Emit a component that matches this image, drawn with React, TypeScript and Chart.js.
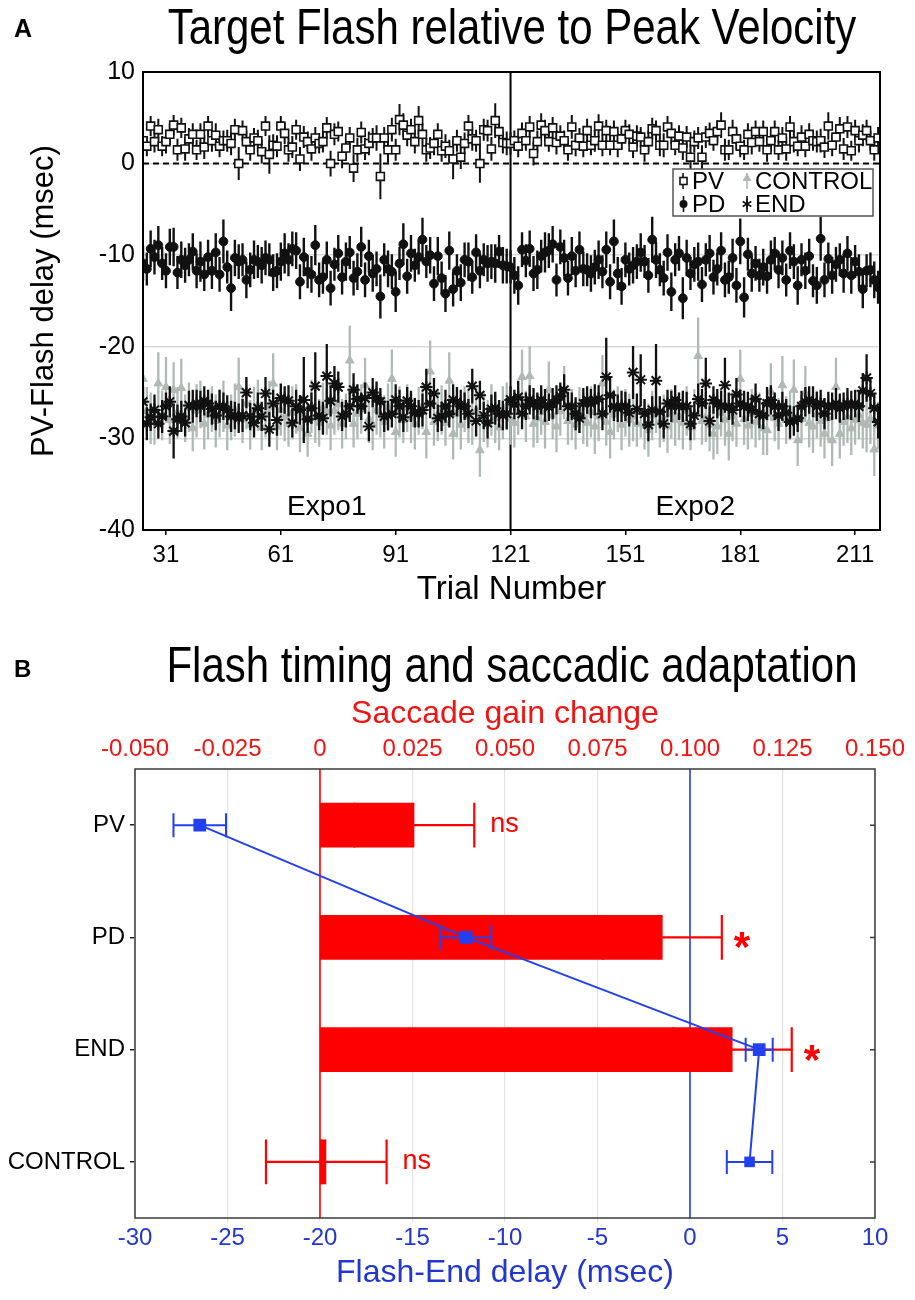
import { useEffect, useRef } from 'react'
import { Chart, registerables } from 'chart.js'

Chart.register(...registerables)

const FONT = "'Liberation Sans', Arial, Helvetica, sans-serif"
Chart.defaults.font.family = FONT
Chart.defaults.color = '#000'

// ---------------- Panel A: PV-Flash delay per trial ----------------
const firstTrial = 25
const trialTicks = [31, 61, 91, 121, 151, 181, 211]
const expoBoundary = 121
const expoLabels = ['Expo1', 'Expo2']

const pvDelay = [
  2.5, 1.9, 4.1, 2.4, 3.7, 1.9, 2.4, 3.2, 4.2, 1.5,
  3.9, 1.6, 2.7, 3.2, 1.5, 3.2, 1.8, 4.1, 2.5, 3.1,
  1.9, 2.5, 2.5, 2.2, 3.7, 0.0, 3.6, 2.4, 1.5, 2.8,
  2.5, 1.3, 4.1, 1.0, 2.0, 1.9, 4.1, 3.3, 1.5, 1.8,
  3.7, 0.5, 2.9, 2.4, 1.6, 2.8, 2.2, 2.4, 3.9, 0.0,
  3.2, 3.5, 0.8, 1.7, 2.8, -0.5, 1.5, 3.4, 1.6, 2.2,
  2.8, 2.8, -1.4, 2.8, 1.5, 3.7, 1.5, 4.8, 4.2, 3.1,
  3.7, 2.4, 4.7, 3.2, 1.5, 1.7, 2.2, 3.2, 1.4, 1.9,
  1.4, 0.5, 2.5, 0.7, 2.2, 4.1, 2.7, 2.5, 0.0, 3.7,
  3.6, 1.6, 4.7, 3.5, 2.3, 2.2, 2.2, 2.5, 1.9, 3.3,
  2.5, 4.0, 1.1, 2.4, 4.2, 3.6, 2.4, 3.9, 2.3, 3.0,
  2.5, 1.5, 4.0, 2.0, 2.8, 1.9, 3.6, 2.0, 2.5, 4.1,
  2.0, 3.6, 2.0, 3.5, 2.0, 2.7, 3.6, 3.2, 1.8, 3.0,
  2.9, 1.5, 2.4, 3.8, 3.6, 2.0, 2.0, 4.0, 3.3, 2.0,
  3.0, 1.7, 2.9, 0.7, 2.4, 2.8, 0.7, 2.9, 3.3, 2.5,
  3.5, 4.2, 1.5, 1.5, 3.5, 2.7, 1.9, 1.5, 3.2, 2.3,
  3.5, 2.4, 3.5, 1.5, 2.5, 3.5, 1.5, 2.8, 1.6, 4.0,
  2.4, 1.9, 2.9, 1.9, 3.2, 2.5, 2.4, 2.5, 1.8, 4.1,
  2.0, 2.9, 3.8, 1.6, 4.0, 1.4, 3.6, 2.5, 3.1, 3.6,
  2.5, 1.5, 2.8,
]
const pvErr = [
  1.2, 1.1, 1.1, 1.2, 1.2, 1.1, 1.3, 1.2, 1.1, 1.2,
  1.1, 1.3, 1.2, 1.2, 1.1, 1.2, 1.3, 1.1, 1.2, 1.3,
  1.2, 1.1, 1.2, 1.3, 1.2, 1.8, 1.1, 1.2, 1.2, 1.1,
  1.2, 1.3, 1.1, 2.1, 1.2, 1.2, 1.1, 1.2, 1.3, 1.2,
  1.1, 1.3, 1.2, 1.1, 1.3, 1.2, 1.1, 1.2, 1.2, 1.4,
  1.2, 1.1, 1.3, 1.2, 1.2, 1.5, 1.3, 1.2, 1.2, 1.3,
  1.1, 1.4, 2.5, 1.2, 1.4, 1.3, 1.2, 1.7, 1.3, 1.2,
  1.2, 1.3, 1.6, 1.2, 1.3, 1.2, 1.3, 1.2, 1.2, 1.3,
  1.2, 2.2, 1.2, 1.3, 1.2, 1.2, 1.3, 1.2, 2.1, 1.2,
  1.2, 1.3, 1.9, 1.2, 1.2, 1.3, 1.2, 1.1, 1.2, 1.2,
  1.1, 1.2, 1.3, 1.2, 1.3, 1.2, 1.1, 1.2, 1.3, 1.2,
  1.1, 1.2, 1.3, 1.2, 1.1, 1.2, 1.3, 1.1, 1.2, 1.3,
  1.2, 1.2, 1.1, 1.2, 1.3, 1.2, 1.2, 1.1, 1.2, 1.2,
  1.1, 1.3, 1.2, 1.2, 1.1, 1.2, 1.3, 1.2, 1.2, 1.1,
  1.2, 1.3, 1.2, 1.4, 1.2, 1.2, 1.3, 1.2, 1.2, 1.1,
  1.2, 1.4, 1.2, 1.1, 1.3, 1.2, 1.2, 1.1, 1.2, 1.3,
  1.2, 1.1, 1.2, 1.3, 1.2, 1.2, 1.1, 1.2, 1.3, 1.2,
  1.2, 1.1, 1.3, 1.2, 1.2, 1.1, 1.2, 1.3, 1.2, 1.5,
  1.2, 1.1, 1.3, 1.2, 1.2, 1.1, 1.2, 1.3, 1.2, 1.2,
  1.1, 1.2, 1.2,
]

const pdDelay = [
  -10.9, -11.5, -9.3, -10.2, -8.9, -10.9, -11.7, -9.1, -9.1, -11.9,
  -10.5, -11.1, -10.5, -9.6, -11.7, -10.7, -12.1, -10.2, -11.7, -9.7,
  -12.1, -8.5, -11.3, -13.6, -10.3, -10.7, -10.5, -12.7, -11.6, -10.5,
  -10.7, -11.1, -10.3, -10.5, -11.9, -11.7, -10.7, -9.8, -10.5, -9.3,
  -9.5, -12.9, -10.2, -11.8, -12.1, -8.9, -12.7, -12.4, -10.5, -13.6,
  -11.0, -9.8, -12.4, -10.7, -9.7, -12.5, -11.8, -9.1, -12.7, -10.1,
  -12.0, -11.5, -14.5, -10.5, -11.5, -11.8, -14.0, -10.9, -8.8, -12.3,
  -9.8, -11.1, -10.2, -8.3, -10.7, -10.0, -13.1, -10.1, -12.5, -14.2,
  -9.5, -13.7, -11.7, -13.0, -10.5, -10.7, -12.4, -9.7, -11.7, -10.5,
  -10.9, -10.7, -10.9, -9.6, -11.1, -11.2, -11.3, -12.2, -13.3, -9.4,
  -10.6, -9.3, -12.0, -11.6, -10.1, -9.7, -9.5, -8.8, -12.7, -9.1,
  -10.3, -12.5, -10.1, -11.7, -9.4, -11.5, -11.6, -12.0, -11.3, -10.5,
  -11.8, -9.4, -12.9, -8.5, -12.0, -13.4, -10.5, -11.5, -11.1, -10.7,
  -9.7, -10.7, -12.2, -8.3, -10.5, -11.6, -12.5, -9.7, -14.0, -10.5,
  -9.8, -14.7, -10.3, -12.0, -11.0, -10.7, -13.2, -10.5, -9.8, -12.4,
  -11.5, -9.5, -12.7, -12.4, -10.3, -13.3, -8.5, -14.6, -9.9, -12.0,
  -10.9, -12.2, -11.3, -12.3, -10.5, -9.8, -11.6, -10.3, -12.7, -9.5,
  -10.7, -13.3, -10.5, -11.7, -10.1, -12.8, -13.3, -8.2, -12.7, -10.4,
  -12.2, -11.0, -10.5, -12.0, -9.8, -12.2, -10.7, -11.8, -13.7, -11.7,
  -11.6, -12.7, -13.5,
]
const pdErr = [
  1.9, 1.8, 2.0, 1.9, 2.1, 1.8, 1.9, 2.0, 2.1, 1.8,
  2.0, 1.9, 1.8, 2.0, 1.9, 2.2, 1.8, 1.9, 2.0, 2.1,
  1.9, 2.4, 1.8, 2.5, 2.0, 1.9, 1.8, 2.0, 1.9, 2.1,
  1.8, 2.0, 1.9, 1.8, 2.0, 1.9, 2.1, 2.2, 1.8, 1.9,
  2.0, 1.9, 2.1, 1.8, 2.0, 2.2, 1.9, 1.8, 2.0, 1.9,
  1.8, 2.0, 1.9, 2.1, 1.8, 1.9, 2.0, 2.2, 1.9, 1.8,
  2.0, 1.9, 2.4, 1.8, 2.0, 1.9, 2.2, 1.8, 2.3, 1.9,
  2.0, 1.8, 1.9, 2.4, 1.8, 2.0, 1.9, 2.1, 1.8, 2.0,
  2.1, 1.9, 1.8, 2.0, 1.9, 2.1, 1.8, 2.0, 1.9, 1.8,
  2.0, 1.9, 2.1, 1.8, 2.0, 1.9, 1.8, 2.0, 2.1, 1.9,
  1.8, 2.0, 1.9, 2.1, 1.8, 2.2, 1.9, 2.0, 1.8, 1.9,
  2.0, 1.9, 2.1, 1.8, 2.0, 1.9, 1.8, 2.0, 1.9, 2.1,
  1.8, 2.0, 1.9, 2.4, 1.8, 2.0, 1.9, 1.8, 2.0, 1.9,
  2.1, 1.8, 1.9, 2.5, 2.0, 1.8, 1.9, 2.0, 2.1, 1.8,
  1.9, 2.3, 2.0, 1.8, 1.9, 2.1, 1.9, 1.8, 2.0, 1.9,
  1.8, 2.0, 1.9, 1.8, 2.1, 1.9, 2.5, 2.2, 1.8, 2.0,
  1.9, 1.8, 2.0, 1.9, 2.1, 1.8, 2.0, 1.9, 1.8, 2.0,
  1.9, 2.1, 1.8, 2.0, 1.9, 1.8, 2.0, 2.4, 1.9, 1.8,
  2.0, 1.9, 1.8, 2.1, 1.9, 2.0, 1.8, 1.9, 2.1, 1.8,
  1.9, 2.0, 1.8,
]

const endDelay = [
  -26.0, -28.4, -27.7, -26.9, -28.4, -27.6, -26.5, -26.0, -29.2, -27.9,
  -27.6, -28.3, -26.4, -26.5, -26.2, -26.5, -25.9, -26.2, -26.8, -27.5,
  -26.5, -26.5, -26.9, -27.6, -27.5, -27.8, -27.5, -25.0, -27.6, -28.3,
  -26.7, -27.6, -25.1, -29.0, -26.2, -28.0, -25.6, -25.8, -25.9, -28.3,
  -26.5, -26.9, -25.8, -27.9, -26.7, -24.3, -27.5, -27.8, -23.2, -25.9,
  -24.0, -24.4, -27.6, -27.3, -26.5, -24.7, -25.7, -26.5, -25.6, -28.7,
  -25.0, -25.6, -26.0, -27.6, -27.5, -27.3, -25.8, -26.5, -27.7, -25.9,
  -26.5, -27.2, -27.3, -26.9, -24.4, -26.2, -25.1, -27.8, -27.6, -26.5,
  -27.3, -25.8, -26.0, -26.5, -26.5, -27.3, -24.3, -28.1, -25.3, -27.5,
  -28.3, -26.8, -26.7, -27.3, -27.5, -27.3, -25.8, -26.3, -25.5, -27.3,
  -26.5, -25.8, -26.2, -26.5, -25.8, -26.4, -26.6, -26.2, -25.8, -25.4,
  -24.7, -26.5, -26.5, -27.3, -27.8, -26.2, -25.8, -26.2, -25.8, -25.7,
  -27.3, -23.3, -25.3, -26.5, -26.7, -26.5, -26.5, -27.2, -22.8, -26.8,
  -23.6, -27.3, -28.5, -26.9, -23.7, -27.1, -28.4, -26.2, -26.5, -25.8,
  -26.5, -26.5, -26.5, -28.4, -27.5, -25.7, -26.2, -24.0, -28.1, -25.8,
  -26.2, -26.5, -24.2, -26.5, -26.9, -25.2, -26.2, -26.5, -26.5, -26.9,
  -25.7, -27.3, -27.5, -26.2, -25.8, -26.5, -27.5, -26.5, -27.2, -28.2,
  -28.1, -27.8, -26.5, -26.0, -25.8, -26.0, -26.5, -26.2, -27.3, -26.5,
  -26.5, -26.2, -26.7, -26.5, -26.2, -26.4, -26.2, -26.5, -24.8, -23.4,
  -25.1, -26.7, -28.2,
]
const endErr = [
  1.6, 1.8, 1.5, 1.7, 1.6, 1.8, 1.5, 1.7, 3.0, 1.6,
  1.7, 1.5, 1.6, 1.8, 1.5, 1.7, 1.6, 1.5, 1.7, 1.6,
  1.8, 1.5, 1.6, 1.7, 1.5, 1.6, 1.8, 1.7, 1.5, 1.6,
  1.7, 1.6, 1.8, 1.9, 1.5, 1.7, 1.6, 1.5, 1.7, 1.6,
  1.8, 1.6, 4.7, 1.5, 1.7, 3.7, 1.6, 1.8, 3.5, 1.7,
  1.9, 1.7, 1.6, 1.5, 1.7, 1.8, 1.6, 1.5, 1.7, 1.6,
  1.6, 1.8, 1.5, 1.7, 1.6, 1.5, 1.7, 1.8, 1.6, 1.5,
  1.7, 1.6, 1.5, 1.8, 2.0, 1.6, 1.7, 1.5, 1.6, 1.8,
  1.5, 1.7, 1.6, 1.8, 1.5, 1.6, 1.9, 1.7, 1.6, 1.5,
  1.7, 1.6, 1.8, 1.5, 1.6, 1.7, 1.5, 1.6, 1.8, 1.7,
  1.5, 1.6, 1.7, 1.5, 1.6, 1.8, 1.5, 1.7, 1.6, 1.5,
  1.7, 1.6, 1.5, 1.8, 1.6, 1.7, 1.5, 1.6, 1.7, 1.5,
  1.8, 4.3, 1.9, 1.6, 1.5, 1.7, 1.6, 1.5, 2.9, 1.7,
  2.8, 1.6, 1.8, 1.5, 4.0, 1.7, 1.6, 1.5, 1.7, 1.6,
  1.5, 1.7, 1.6, 1.8, 1.5, 1.7, 1.6, 2.8, 1.7, 1.5,
  1.6, 1.7, 3.0, 1.5, 1.6, 1.8, 1.5, 1.7, 1.6, 1.5,
  1.7, 1.6, 1.5, 1.8, 1.6, 1.5, 1.7, 1.6, 1.5, 1.8,
  1.6, 1.5, 1.7, 1.6, 1.5, 1.7, 1.6, 1.5, 1.7, 1.6,
  1.5, 1.7, 1.6, 1.5, 1.7, 1.6, 1.5, 1.7, 1.9, 2.6,
  1.7, 1.6, 1.8,
]

const controlDelay = [
  -23.5, -27.0, -27.8, -28.2, -24.0, -27.5, -24.4, -28.0, -24.7, -27.2,
  -24.5, -27.8, -26.6, -28.9, -27.0, -26.3, -28.4, -27.4, -26.8, -28.1,
  -27.3, -26.5, -28.6, -27.7, -26.9, -24.4, -27.9, -26.2, -28.5, -27.0,
  -26.4, -28.8, -27.2, -26.6, -24.0, -28.7, -26.9, -27.6, -28.4, -27.2,
  -26.8, -28.9, -27.4, -29.5, -26.5, -27.8, -28.3, -26.7, -27.1, -28.6,
  -27.0, -26.3, -28.4, -27.6, -21.5, -28.4, -27.3, -26.8, -24.2, -27.9,
  -28.5, -26.9, -27.4, -28.2, -26.6, -23.5, -29.3, -27.1, -28.0, -26.7,
  -27.8, -28.4, -27.0, -26.5, -29.3, -22.7, -28.2, -27.5, -26.9, -28.3,
  -23.7, -29.5, -27.3, -28.5, -26.8, -27.6, -28.1, -27.0, -31.3, -27.7,
  -28.4, -26.9, -27.8, -28.8, -27.2, -26.5, -27.9, -28.3, -27.1, -23.3,
  -27.6, -23.2, -28.4, -27.8, -27.1, -28.2, -24.7, -27.5, -28.7, -27.0,
  -25.0, -28.1, -27.4, -28.5, -26.9, -27.7, -28.3, -27.1, -28.7, -27.6,
  -24.0, -28.2, -29.3, -27.4, -26.8, -28.5, -27.2, -28.0, -27.6, -28.4,
  -27.1, -28.6, -29.1, -27.5, -26.9, -28.2, -27.8, -28.7, -27.3, -28.0,
  -27.6, -28.3, -27.0, -28.8, -27.4, -21.0, -28.1, -27.7, -28.5, -29.5,
  -28.7, -27.2, -28.0, -29.5, -27.6, -28.4, -23.5, -27.9, -28.6, -27.3,
  -28.2, -27.6, -28.9, -29.1, -24.9, -27.8, -28.4, -24.2, -28.0, -27.5,
  -24.7, -30.2, -27.9, -25.1, -28.3, -28.7, -27.4, -28.1, -29.5, -27.8,
  -30.2, -24.4, -29.5, -28.2, -27.7, -28.9, -28.0, -27.5, -28.3, -28.5,
  -27.9, -31.2, -28.6,
]
const controlErr = [
  3.0, 2.6, 2.8, 2.5, 3.4, 2.7, 3.3, 2.6, 3.0, 2.8,
  3.2, 2.6, 2.7, 2.5, 2.9, 2.6, 2.8, 2.7, 2.5, 2.9,
  2.6, 2.8, 2.7, 2.5, 2.9, 3.2, 2.6, 2.8, 2.7, 2.6,
  2.8, 2.5, 2.7, 2.9, 3.3, 2.6, 2.8, 2.7, 2.5, 2.9,
  2.7, 2.6, 2.8, 2.5, 2.9, 2.7, 2.6, 2.8, 2.5, 2.7,
  2.6, 2.8, 2.7, 2.5, 3.8, 2.6, 2.8, 2.7, 3.0, 2.6,
  2.8, 2.7, 2.5, 2.9, 2.6, 3.2, 2.7, 2.8, 2.5, 2.6,
  2.7, 2.8, 2.6, 2.5, 2.9, 3.4, 2.6, 2.8, 2.7, 2.5,
  3.1, 2.8, 2.6, 2.7, 2.5, 2.9, 2.6, 2.8, 2.9, 2.7,
  2.6, 2.8, 2.7, 2.5, 2.9, 2.6, 2.8, 2.7, 2.5, 3.0,
  2.8, 3.3, 2.6, 2.7, 2.5, 2.9, 3.1, 2.6, 2.8, 2.7,
  2.9, 2.6, 2.8, 2.7, 2.5, 2.9, 2.6, 2.8, 3.0, 2.7,
  3.1, 2.6, 2.9, 2.7, 2.5, 2.8, 2.6, 2.9, 2.7, 2.5,
  2.8, 2.6, 2.9, 2.7, 2.5, 2.8, 2.6, 2.9, 2.7, 2.8,
  2.6, 2.9, 2.7, 2.5, 2.8, 4.2, 2.6, 2.7, 2.9, 2.8,
  3.0, 2.6, 2.8, 2.9, 2.7, 2.5, 3.2, 2.8, 2.6, 2.7,
  2.8, 2.6, 2.9, 2.7, 3.1, 2.5, 2.8, 3.2, 2.6, 2.7,
  3.3, 2.8, 2.6, 3.0, 2.7, 2.9, 2.6, 2.8, 2.7, 2.5,
  2.8, 3.2, 2.7, 2.6, 2.8, 2.9, 2.7, 2.6, 2.8, 3.0,
  2.7, 2.9, 2.6,
]

// ---------------- Panel B: flash timing vs. gain change ----------------
const conditions = ['PV', 'PD', 'END', 'CONTROL']
const gainChange = [0.0255, 0.0926, 0.1115, 0.0017]
const gainErr = [0.0162, 0.016, 0.016, 0.0163]
const flashEndDelay = [-26.5, -12.1, 3.74, 3.22]
const flashEndErr = [1.42, 1.36, 0.73, 1.23]
const sigLabels = ['ns', '*', '*', 'ns']
const delayTicks = [-30, -25, -20, -15, -10, -5, 0, 5, 10]
const gainTicks = [-0.05, -0.025, 0, 0.025, 0.05, 0.075, 0.1, 0.125, 0.15]

const GREY = '#b1b9b5'
const RED = '#ff0000'
const BLUE = '#2340ee'
const BLUE_TEXT = '#2236d0'

const toPoints = (vals: number[]) => vals.map((v, i) => ({ x: firstTrial + i, y: v }))

// error bar settings, same order as the datasets
const errBarsA = [
  { err: pvErr, mean: pvDelay, color: '#111', width: 2 },
  { err: pdErr, mean: pdDelay, color: '#111', width: 2.4 },
  { err: endErr, mean: endDelay, color: '#111', width: 2.3 },
  { err: controlErr, mean: controlDelay, color: GREY, width: 2.3 },
]

// condensed title text, like the narrow Helvetica of the figure
function drawTitle(ctx: CanvasRenderingContext2D, text: string, x: number, y: number, size: number) {
  ctx.save()
  ctx.translate(x, y)
  ctx.scale(0.84, 1)
  ctx.font = `${size}px ${FONT}`
  ctx.textAlign = 'center'
  ctx.textBaseline = 'alphabetic'
  ctx.fillStyle = '#000'
  ctx.fillText(text, 0, 0)
  ctx.restore()
}

function drawAsterisk(ctx: CanvasRenderingContext2D, x: number, y: number, r: number) {
  ctx.beginPath()
  for (let k = 0; k < 3; k++) {
    const a = (Math.PI / 3) * k + Math.PI / 2
    ctx.moveTo(x + r * Math.cos(a), y + r * Math.sin(a))
    ctx.lineTo(x - r * Math.cos(a), y - r * Math.sin(a))
  }
  ctx.stroke()
}

const panelAPlugin = {
  id: 'panelA',
  beforeDatasetsDraw(chart: Chart) {
    const { ctx, chartArea: a, scales } = chart
    ctx.save()
    ctx.strokeStyle = '#000'
    ctx.lineWidth = 2
    ctx.setLineDash([6, 4])
    const y0 = scales.y.getPixelForValue(0)
    ctx.beginPath()
    ctx.moveTo(a.left, y0)
    ctx.lineTo(a.right, y0)
    ctx.stroke()
    ctx.setLineDash([])
    const xb = scales.x.getPixelForValue(expoBoundary)
    ctx.beginPath()
    ctx.moveTo(xb, a.top)
    ctx.lineTo(xb, a.bottom)
    ctx.stroke()
    ctx.restore()
  },
  beforeDatasetDraw(chart: Chart, args: any) {
    const bars = errBarsA[args.index]
    if (!bars) return
    const { ctx, chartArea: a, scales } = chart
    ctx.save()
    ctx.beginPath()
    ctx.rect(a.left, a.top, a.right - a.left, a.bottom - a.top)
    ctx.clip()
    ctx.strokeStyle = bars.color
    ctx.lineWidth = bars.width
    ctx.beginPath()
    bars.mean.forEach((m, i) => {
      const px = scales.x.getPixelForValue(firstTrial + i)
      ctx.moveTo(px, scales.y.getPixelForValue(m + bars.err[i]))
      ctx.lineTo(px, scales.y.getPixelForValue(m - bars.err[i]))
    })
    ctx.stroke()
    ctx.restore()
  },
  afterDraw(chart: Chart) {
    const { ctx, chartArea: a, scales } = chart
    ctx.save()
    // frame
    ctx.strokeStyle = '#000'
    ctx.lineWidth = 2
    ctx.strokeRect(a.left, a.top, a.right - a.left, a.bottom - a.top)

    // Expo labels, centred in each half
    const xb = scales.x.getPixelForValue(expoBoundary)
    ctx.fillStyle = '#000'
    ctx.font = `28px ${FONT}`
    ctx.textAlign = 'center'
    ctx.textBaseline = 'middle'
    ctx.fillText(expoLabels[0], (a.left + xb) / 2, 507)
    ctx.fillText(expoLabels[1], (xb + a.right) / 2, 507)

    // legend
    ctx.fillStyle = '#fff'
    ctx.fillRect(673, 169, 200, 47)
    ctx.strokeStyle = '#555'
    ctx.lineWidth = 1.5
    ctx.strokeRect(673, 169, 200, 47)
    const rows = [181, 204]
    ctx.lineWidth = 1.6
    // PV
    ctx.strokeStyle = '#111'
    ctx.beginPath(); ctx.moveTo(683, rows[0] - 8); ctx.lineTo(683, rows[0] + 8); ctx.stroke()
    ctx.fillStyle = '#fff'
    ctx.fillRect(680, rows[0] - 3.5, 7, 7)
    ctx.strokeRect(680, rows[0] - 3.5, 7, 7)
    // PD
    ctx.beginPath(); ctx.moveTo(683.5, rows[1] - 8); ctx.lineTo(683.5, rows[1] + 8); ctx.stroke()
    ctx.fillStyle = '#111'
    ctx.beginPath(); ctx.arc(683.5, rows[1], 4, 0, Math.PI * 2); ctx.fill()
    // CONTROL
    ctx.strokeStyle = GREY
    ctx.beginPath(); ctx.moveTo(747, rows[0] - 8); ctx.lineTo(747, rows[0] + 8); ctx.stroke()
    ctx.fillStyle = GREY
    ctx.beginPath()
    ctx.moveTo(747, rows[0] - 8); ctx.lineTo(751.5, rows[0]); ctx.lineTo(742.5, rows[0]); ctx.closePath()
    ctx.fill()
    // END
    ctx.strokeStyle = '#111'
    ctx.beginPath(); ctx.moveTo(747, rows[1] - 8); ctx.lineTo(747, rows[1] + 8); ctx.stroke()
    drawAsterisk(ctx, 747, rows[1], 5)

    ctx.fillStyle = '#000'
    ctx.font = `24px ${FONT}`
    ctx.textAlign = 'left'
    ctx.fillText('PV', 692, rows[0] + 1)
    ctx.fillText('PD', 692, rows[1] + 1)
    ctx.fillText('CONTROL', 755, rows[0] + 1)
    ctx.fillText('END', 755, rows[1] + 1)

    // panel letter and title
    ctx.textBaseline = 'alphabetic'
    ctx.font = `bold 25px ${FONT}`
    ctx.fillText('A', 14, 37)
    ctx.restore()
    drawTitle(ctx, 'Target Flash relative to Peak Velocity', 512, 44, 50)
  },
}

const panelBPlugin = {
  id: 'panelB',
  beforeDatasetsDraw(chart: Chart) {
    const { ctx, chartArea: a, scales } = chart
    ctx.save()
    ctx.lineWidth = 1.6
    const xr = scales.x2.getPixelForValue(0)
    ctx.strokeStyle = RED
    ctx.beginPath(); ctx.moveTo(xr, a.top); ctx.lineTo(xr, a.bottom); ctx.stroke()
    const xbz = scales.x.getPixelForValue(0)
    ctx.strokeStyle = BLUE
    ctx.beginPath(); ctx.moveTo(xbz, a.top); ctx.lineTo(xbz, a.bottom); ctx.stroke()
    ctx.restore()
  },
  afterDatasetDraw(chart: Chart, args: any) {
    if (args.index !== 0) return
    // red error bars on the gain bars
    const { ctx, scales } = chart
    const band = scales.y.height / conditions.length
    const capH = band * 0.4
    ctx.save()
    ctx.strokeStyle = RED
    ctx.lineWidth = 2.2
    gainChange.forEach((g, i) => {
      const py = scales.y.getPixelForValue(i)
      const lo = scales.x2.getPixelForValue(g - gainErr[i])
      const hi = scales.x2.getPixelForValue(g + gainErr[i])
      ctx.beginPath()
      ctx.moveTo(lo, py); ctx.lineTo(hi, py)
      ctx.moveTo(lo, py - capH / 2); ctx.lineTo(lo, py + capH / 2)
      ctx.moveTo(hi, py - capH / 2); ctx.lineTo(hi, py + capH / 2)
      ctx.stroke()
    })
    ctx.restore()
  },
  beforeDatasetDraw(chart: Chart, args: any) {
    if (args.index !== 1) return
    // blue error bars on the delay points
    const { ctx, scales } = chart
    ctx.save()
    ctx.strokeStyle = BLUE
    ctx.lineWidth = 2
    flashEndDelay.forEach((d, i) => {
      const py = scales.y.getPixelForValue(i)
      const lo = scales.x.getPixelForValue(d - flashEndErr[i])
      const hi = scales.x.getPixelForValue(d + flashEndErr[i])
      ctx.beginPath()
      ctx.moveTo(lo, py); ctx.lineTo(hi, py)
      ctx.moveTo(lo, py - 12); ctx.lineTo(lo, py + 12)
      ctx.moveTo(hi, py - 12); ctx.lineTo(hi, py + 12)
      ctx.stroke()
    })
    ctx.restore()
  },
  afterDraw(chart: Chart) {
    const { ctx, chartArea: a, scales } = chart
    ctx.save()
    ctx.strokeStyle = '#3a3a3a'
    ctx.lineWidth = 1.5
    ctx.strokeRect(a.left, a.top, a.right - a.left, a.bottom - a.top)
    // inward ticks on the right edge
    ctx.beginPath()
    conditions.forEach((_, i) => {
      const py = scales.y.getPixelForValue(i)
      ctx.moveTo(a.right, py)
      ctx.lineTo(a.right - 5, py)
    })
    ctx.stroke()

    // significance marks
    ctx.fillStyle = RED
    ctx.textAlign = 'left'
    ctx.textBaseline = 'alphabetic'
    sigLabels.forEach((s, i) => {
      const py = scales.y.getPixelForValue(i)
      const px = scales.x2.getPixelForValue(gainChange[i] + gainErr[i])
      if (s === '*') {
        ctx.font = `bold 42px ${FONT}`
        ctx.fillText(s, px + 12, py + 24)
      } else {
        ctx.font = `27px ${FONT}`
        ctx.fillText(s, px + 16, py + 7)
      }
    })

    ctx.fillStyle = '#000'
    ctx.font = `bold 24px ${FONT}`
    ctx.fillText('B', 14, 57)
    ctx.restore()
    drawTitle(ctx, 'Flash timing and saccadic adaptation', 512, 62, 50)
  },
}

function PanelA() {
  const chartRef = useRef<HTMLCanvasElement>(null)

  useEffect(() => {
    if (!chartRef.current) return
    const chart = new Chart(chartRef.current, {
      type: 'scatter',
      data: {
        datasets: [
          {
            label: 'PV',
            data: toPoints(pvDelay),
            pointStyle: 'rect',
            pointRadius: 5.6,
            backgroundColor: '#fff',
            borderColor: '#111',
            borderWidth: 1.6,
            order: 1,
          },
          {
            label: 'PD',
            data: toPoints(pdDelay),
            pointStyle: 'circle',
            pointRadius: 4.4,
            backgroundColor: '#111',
            borderColor: '#111',
            borderWidth: 1,
            order: 2,
          },
          {
            label: 'END',
            data: toPoints(endDelay),
            pointStyle: 'star',
            pointRadius: 6.2,
            backgroundColor: '#111',
            borderColor: '#111',
            borderWidth: 2,
            order: 3,
          },
          {
            label: 'CONTROL',
            data: toPoints(controlDelay),
            pointStyle: 'triangle',
            pointRadius: 5,
            backgroundColor: GREY,
            borderColor: GREY,
            borderWidth: 1,
            order: 4,
          },
        ],
      },
      options: {
        responsive: false,
        animation: false,
        events: [],
        layout: { padding: { top: 72, right: 35, left: 0, bottom: 0 } },
        plugins: {
          legend: { display: false },
          tooltip: { enabled: false },
          title: { display: false },
        },
        scales: {
          x: {
            type: 'linear',
            min: 25,
            max: 217.5,
            afterBuildTicks: (axis: any) => {
              axis.ticks = trialTicks.map(v => ({ value: v }))
            },
            afterFit: (axis: any) => {
              axis.height = 90
            },
            ticks: { font: { size: 24 }, color: '#000', padding: 6, autoSkip: false, maxRotation: 0 },
            grid: { drawOnChartArea: false, tickLength: 5, color: '#000', lineWidth: 1.5 },
            border: { display: false },
            title: {
              display: true,
              text: 'Trial Number',
              font: { size: 33 },
              color: '#000',
              padding: { top: 0, bottom: 10 },
            },
          },
          y: {
            min: -40,
            max: 10,
            ticks: { stepSize: 10, font: { size: 25 }, color: '#000', padding: 8 },
            grid: { color: '#d9d9d9', lineWidth: 1.5, drawTicks: false },
            border: { display: false },
            afterFit: (axis: any) => {
              axis.width = 143
            },
            title: {
              display: true,
              text: 'PV-Flash delay (msec)',
              font: { size: 31 },
              color: '#000',
              padding: { top: 26, bottom: 0 },
            },
          },
        },
      },
      plugins: [panelAPlugin],
    })

    return () => {
      chart.destroy()
    }
  }, [])

  return <canvas ref={chartRef} width={915} height={620} style={{ display: 'block', width: 915, height: 620 }} />
}

function PanelB() {
  const chartRef = useRef<HTMLCanvasElement>(null)

  useEffect(() => {
    if (!chartRef.current) return
    const chart = new Chart(chartRef.current, {
      type: 'bar',
      data: {
        labels: conditions,
        datasets: [
          {
            label: 'Saccade gain change',
            data: gainChange,
            xAxisID: 'x2',
            yAxisID: 'y',
            backgroundColor: RED,
            borderWidth: 0,
            barPercentage: 0.4,
            categoryPercentage: 1,
            order: 2,
          },
          {
            type: 'line',
            label: 'Flash-End delay',
            data: flashEndDelay,
            xAxisID: 'x',
            yAxisID: 'y',
            borderColor: BLUE,
            borderWidth: 2,
            pointStyle: 'rect',
            pointRadius: [9, 9, 9, 7.5],
            pointBackgroundColor: BLUE,
            pointBorderColor: BLUE,
            pointBorderWidth: 0,
            tension: 0,
            order: 1,
          } as any,
        ],
      },
      options: {
        indexAxis: 'y',
        responsive: false,
        animation: false,
        events: [],
        layout: { padding: { top: 69, right: 40, left: 0, bottom: 0 } },
        plugins: {
          legend: { display: false },
          tooltip: { enabled: false },
          title: { display: false },
        },
        scales: {
          y: {
            type: 'category',
            position: 'left',
            offset: true,
            ticks: { font: { size: 24 }, color: '#000', padding: 5 },
            grid: { drawOnChartArea: false, offset: false, tickLength: 5, color: '#222', lineWidth: 1.5 },
            border: { display: false },
            afterFit: (axis: any) => {
              axis.width = 135
            },
          },
          x: {
            type: 'linear',
            position: 'bottom',
            min: -30,
            max: 10,
            afterBuildTicks: (axis: any) => {
              axis.ticks = delayTicks.map(v => ({ value: v }))
            },
            afterFit: (axis: any) => {
              axis.height = 82
            },
            ticks: { font: { size: 24 }, color: BLUE_TEXT, padding: 2, maxRotation: 0 },
            grid: { color: '#e2e2e2', lineWidth: 1.2, tickLength: 4 },
            border: { display: false },
            title: {
              display: true,
              text: 'Flash-End delay (msec)',
              font: { size: 32 },
              color: BLUE_TEXT,
              padding: { top: 0, bottom: 8 },
            },
          },
          x2: {
            type: 'linear',
            axis: 'x',
            position: 'top',
            min: -0.05,
            max: 0.15,
            afterBuildTicks: (axis: any) => {
              axis.ticks = gainTicks.map(v => ({ value: v }))
            },
            afterFit: (axis: any) => {
              axis.height = 80
            },
            ticks: {
              font: { size: 24 },
              color: '#f01414',
              padding: 5,
              maxRotation: 0,
              autoSkip: false,
              callback: (v: any) => (Math.abs(Number(v)) < 1e-9 ? '0' : Number(v).toFixed(3)),
            },
            grid: { display: false, drawTicks: false },
            border: { display: false },
            title: {
              display: true,
              text: 'Saccade gain change',
              font: { size: 32 },
              color: '#f01414',
              padding: { top: 6, bottom: 0 },
            },
          },
        },
      },
      plugins: [panelBPlugin],
    })

    return () => {
      chart.destroy()
    }
  }, [])

  return <canvas ref={chartRef} width={915} height={680} style={{ display: 'block', width: 915, height: 680 }} />
}

export default function App() {
  return (
    <div style={{ position: 'absolute', left: 0, top: 0, width: 915, height: 1300, background: '#fff' }}>
      <PanelA />
      <PanelB />
    </div>
  )
}
